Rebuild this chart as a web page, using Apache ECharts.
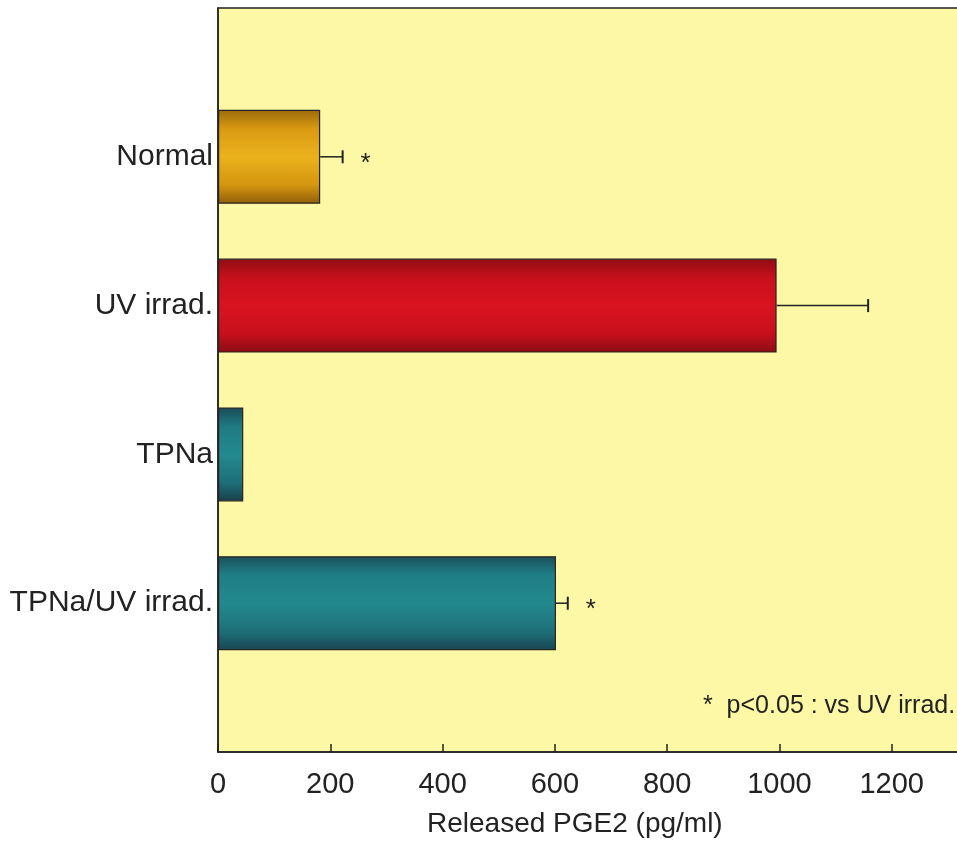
<!DOCTYPE html>
<html><head><meta charset="utf-8">
<script src="https://cdn.jsdelivr.net/npm/echarts@6/dist/echarts.min.js"></script>
<style>html,body{margin:0;padding:0;background:#fff}#c{width:957px;height:843px}</style>
</head><body><div id="c"></div>
<script>
const categories = ['Normal', 'UV irrad.', 'TPNa', 'TPNa/UV irrad.'];
const values = [182, 995, 45, 602];
const errors = [40, 163, 0, 21];
const significant = [true, false, false, true];
const xTicks = [0, 200, 400, 600, 800, 1000, 1200];
const axisTitle = 'Released PGE2 (pg/ml)';
const footnote = '*  p<0.05 : vs UV irrad.';

const palettes = [
  ['#9a6a0c', '#d99a12', '#eab21c', '#d4960f', '#8f5e0a'],
  ['#8e0c14', '#c8101c', '#d81420', '#c8101c', '#8a0c14'],
  ['#1b4a55', '#1f7a82', '#238a90', '#1e6e78', '#173f4c'],
  ['#1b4f5a', '#1f7f86', '#23898f', '#1e7078', '#184452']
];
function grad(p){
  return new echarts.graphic.LinearGradient(0,0,0,1,[
    {offset:0,color:p[0]},{offset:0.2,color:p[1]},{offset:0.5,color:p[2]},{offset:0.8,color:p[3]},{offset:1,color:p[4]}]);
}
const yCats = [''].concat(categories.slice().reverse()).concat(['']);
const barData = categories.map((c,i)=>({value:[values[i], c], itemStyle:{color:grad(palettes[i])}}));
const errData = categories.map((c,i)=>[values[i], c, errors[i], significant[i]?1:0]);

const chart = echarts.init(document.getElementById('c'));
const font = 'Liberation Sans, Arial, sans-serif';
chart.setOption({
  animation:false,
  grid:{left:218, top:8, bottom:91, right:-47, outerBoundsMode:'none', containLabel:false,
    show:true, backgroundColor:'#fcf8a6', borderColor:'#222', borderWidth:1.5},
  xAxis:{type:'value', min:0, max:1400, interval:200,
    axisLine:{show:true, lineStyle:{color:'#222', width:1.5}},
    axisTick:{show:true, inside:true, length:8, lineStyle:{color:'#222', width:1.5}},
    axisLabel:{color:'#222', fontSize:29, fontFamily:font, margin:18,
      formatter:v=> xTicks.indexOf(v)>=0 ? String(v) : ''},
    splitLine:{show:false}},
  yAxis:{type:'category', data:yCats, boundaryGap:false,
    axisLine:{show:true, lineStyle:{color:'#222', width:1.5}},
    axisTick:{show:false},
    axisLabel:{color:'#222', fontSize:30, fontFamily:font, margin:5, padding:[3,0,0,0]},
    splitLine:{show:false}},
  series:[
    {type:'bar', data:barData, barWidth:94, encode:{x:0,y:1},
     itemStyle:{borderColor:'#2a2420', borderWidth:1.2}},
    {type:'custom', data:errData, encode:{x:0,y:1}, z:5,
     renderItem:(params, api)=>{
       const v = api.value(0), e = api.value(2), sig = api.value(3);
       const y = api.coord([0, api.value(1)])[1];
       const x0 = api.coord([v, api.value(1)])[0];
       const x1 = api.coord([v+e, api.value(1)])[0];
       const children = [];
       if (e>0){
         children.push({type:'line', shape:{x1:x0,y1:y,x2:x1,y2:y}, style:{stroke:'#222', lineWidth:1.5}});
         children.push({type:'line', shape:{x1:x1,y1:y-6.5,x2:x1,y2:y+6.5}, style:{stroke:'#222', lineWidth:2}});
       }
       if (sig){
         children.push({type:'text', x:x1+23, y:y+7, style:{text:'*', fill:'#222', fontSize:26, fontFamily:font, align:'center', verticalAlign:'middle'}});
       }
       return {type:'group', children};
     }}
  ],
  graphic:[
    {type:'text', left:703, top:694, style:{text:footnote, fill:'#222', fontSize:25, fontFamily:font}},
    {type:'text', left:427, top:810, style:{text:axisTitle, fill:'#222', fontSize:28, fontFamily:font}}
  ]
});
</script></body></html>
